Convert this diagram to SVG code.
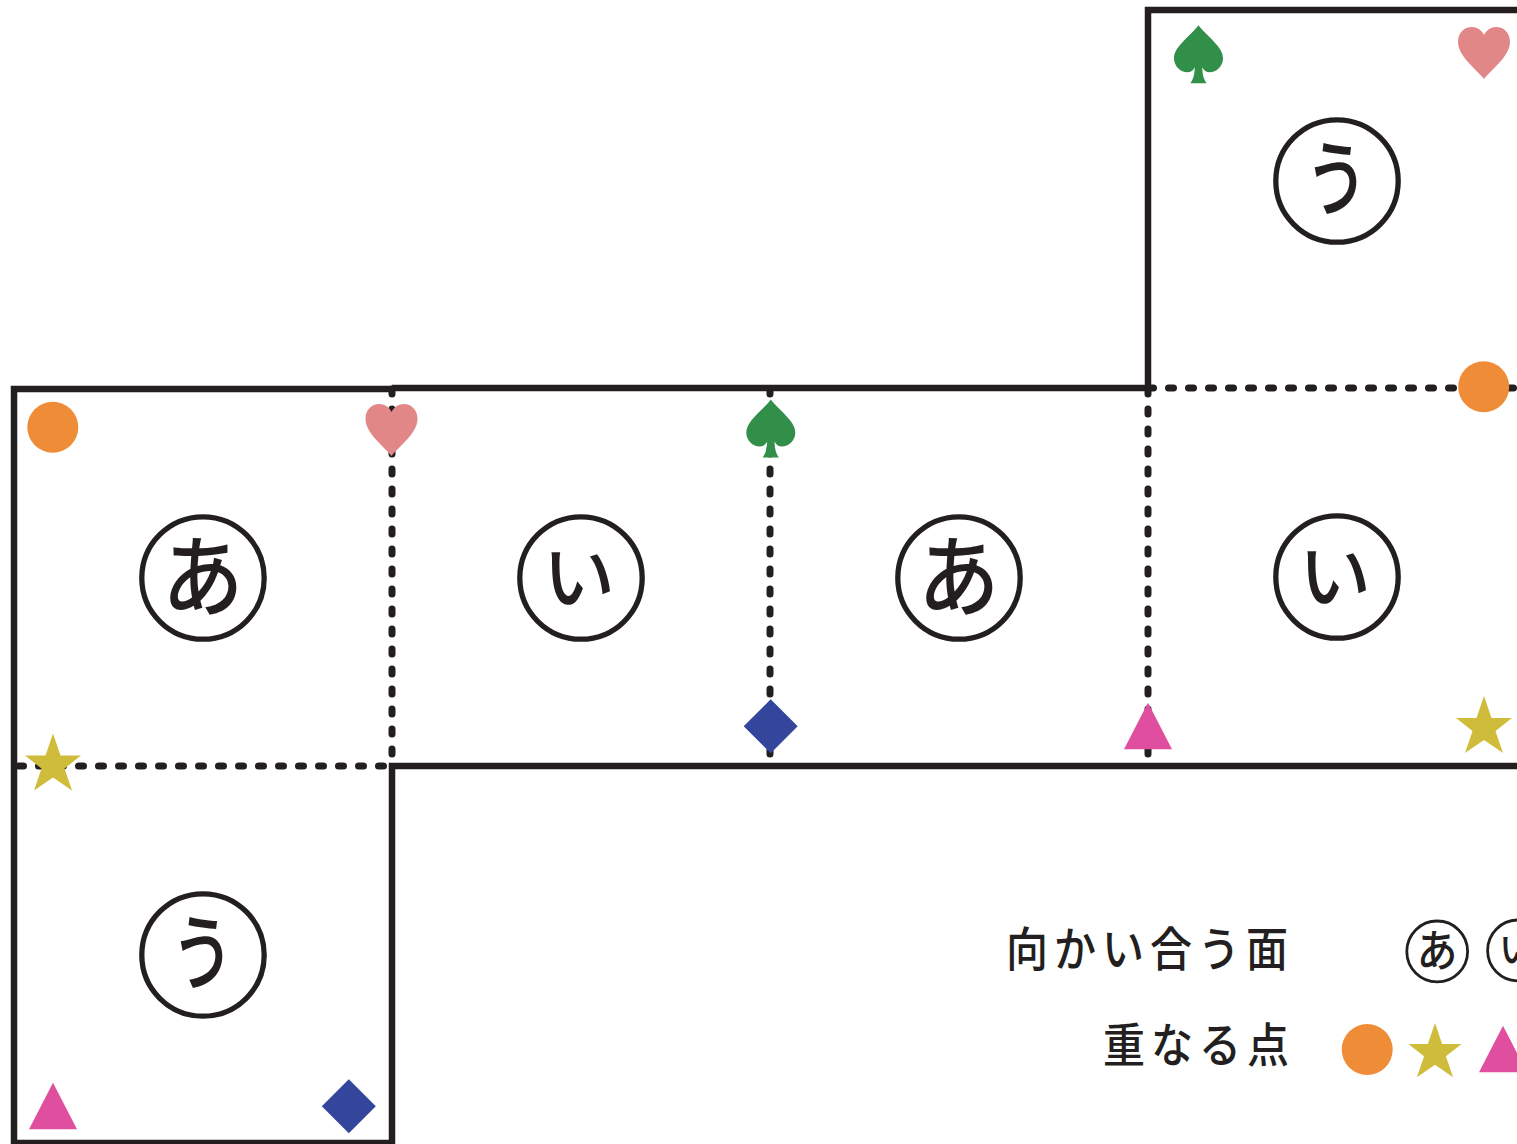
<svg xmlns="http://www.w3.org/2000/svg" width="1517" height="1144" viewBox="0 0 1517 1144">
<style>
.o{fill:none;stroke:#231f20;stroke-width:6.5}
.d{fill:none;stroke:#231f20;stroke-width:7;stroke-linecap:round;stroke-dasharray:5 15}
.c{fill:#fff;stroke:#231f20;stroke-width:5.3}
.c2{fill:#fff;stroke:#231f20;stroke-width:2.8}
.k{font-family:"Noto Sans CJK JP","Noto Sans",sans-serif;font-size:72px;font-weight:500;fill:#231f20;text-anchor:middle}
.k2{font-family:"Noto Sans CJK JP","Noto Sans",sans-serif;font-size:36px;font-weight:500;fill:#231f20;text-anchor:middle}
.l{font-family:"Noto Sans CJK JP","Noto Sans",sans-serif;font-size:42px;font-weight:500;fill:#231f20;letter-spacing:6px}
.or{fill:#ef8c37}.st{fill:#cfbc3a}.tr{fill:#e04f9f}.di{fill:#34469c}.sp{fill:#328f49}.he{fill:#e18788}
</style>
<defs>
<circle id="orange" class="or" r="25.5"/>
<polygon id="star" class="st" points="0,-30 7.5,-8 28,-8 11.5,5 19,27 0,14 -19,27 -11.5,5 -28,-8 -7.5,-8"/>
<polygon id="tri" class="tr" points="0,-23.5 24,23 -24,23"/>
<polygon id="dia" class="di" points="0,-27 27,0 0,27 -27,0"/>
<path id="spade" class="sp" d="M0,-29 C8,-18 24.5,-8 24.5,4 C24.5,12 18,18 11,18 C8,18 5,16 3.7,13 C4,20 5,25 8.2,29 L-8.2,29 C-5,25 -4,20 -3.7,13 C-5,16 -8,18 -11,18 C-18,18 -24.5,12 -24.5,4 C-24.5,-8 -8,-18 0,-29 Z"/>
<path id="heart" class="he" d="M0,26 C-8,16 -26,3 -26,-11 C-26,-20 -20,-26 -12,-26 C-6,-26 -2,-22 0,-18 C2,-22 6,-26 12,-26 C20,-26 26,-20 26,-11 C26,3 8,16 0,26 Z"/>
</defs>
<rect width="1517" height="1144" fill="#fff"/>
<g id="connectors">
<path class="o" d="M392,389 H14 V1143 H392 V766 H1517"/>
<path class="o" d="M392,388 H1148 V10 H1517"/>
<path class="d" d="M392,389 V760"/>
<path class="d" d="M770,389 V755"/>
<path class="d" d="M1148,389 V755"/>
<path class="d" d="M18.5,766 H386"/>
<path class="d" d="M1148.5,388 H1517"/>
</g>
<g id="face-a1"><circle class="c" cx="203" cy="578" r="61.2"/><text class="k" transform="translate(202.7 609.4) scale(1.13 1.23)">あ</text></g>
<g id="face-i1"><circle class="c" cx="581" cy="578" r="61.2"/><text class="k" x="579" y="603">い</text></g>
<g id="face-a2"><circle class="c" cx="959" cy="578" r="61.2"/><text class="k" transform="translate(958.7 609.4) scale(1.13 1.23)">あ</text></g>
<g id="face-i2"><circle class="c" cx="1337" cy="577" r="61.2"/><text class="k" x="1335" y="602">い</text></g>
<g id="face-u1"><circle class="c" cx="1337" cy="181" r="61.2"/><text class="k" transform="translate(1336.5 208.5) scale(.88 1.15)">う</text></g>
<g id="face-u2"><circle class="c" cx="203" cy="955" r="61.2"/><text class="k" transform="translate(202.5 982.5) scale(.88 1.15)">う</text></g>
<g id="marks">
<use href="#orange" x="52.8" y="427.3"/>
<use href="#heart" x="391.5" y="430"/>
<use href="#spade" x="770.8" y="428.5"/>
<use href="#dia" x="770.7" y="726.3"/>
<use href="#tri" x="1148" y="726.3"/>
<use href="#star" x="1484" y="726"/>
<use href="#orange" x="1483.7" y="386.7"/>
<use href="#heart" x="1484" y="53"/>
<use href="#spade" x="1198.5" y="54.3"/>
<use href="#star" x="53" y="763.5"/>
<use href="#tri" x="53" y="1106.3"/>
<use href="#dia" x="348.8" y="1106.3"/>
</g>
<g id="legend">
<text class="l" transform="translate(1006 965.5) scale(1 1.1)">向かい合う面</text>
<text class="l" transform="translate(1103 1062) scale(1 1.1)">重なる点</text>
<circle class="c2" cx="1437.2" cy="951.4" r="30.4"/><text class="k2" transform="translate(1437 967) scale(1.13 1.23)">あ</text>
<circle class="c2" cx="1518" cy="950.4" r="30.4"/><text class="k2" x="1517" y="963">い</text>
<use href="#orange" x="1367.2" y="1049.5"/>
<use href="#star" transform="translate(1435 1051.5) scale(.95)"/>
<use href="#tri" x="1503" y="1049.3"/>
</g>
</svg>
